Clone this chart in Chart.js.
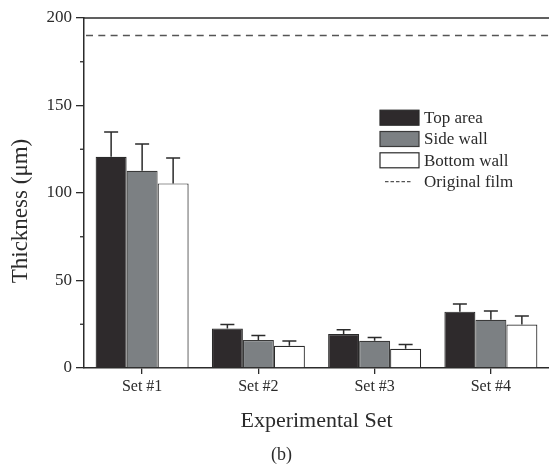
<!DOCTYPE html>
<html>
<head>
<meta charset="utf-8">
<script src="https://cdn.jsdelivr.net/npm/chart.js@4.4.0/dist/chart.umd.min.js"></script>
<style>
  html, body { margin: 0; padding: 0; background: #ffffff; }
  #wrap { width: 549px; height: 468px; }
</style>
</head>
<body>
<div id="wrap"><canvas id="c" width="549" height="468"></canvas></div>
<script>
// ---- Data ----
const categories = ['Set #1', 'Set #2', 'Set #3', 'Set #4'];
const topArea     = [120.7, 22.6, 19.4, 32.2];
const topAreaErr  = [14.2, 2.3, 2.5, 4.4];
const sideWall    = [112.7, 16.0, 15.6, 27.6];
const sideWallErr = [15.3, 2.6, 1.9, 5.0];
const bottomWall    = [105.5, 12.7, 11.0, 24.9];
const bottomWallErr = [14.5, 2.7, 2.5, 4.8];
const originalFilm = 190;
const yTicks = [0, 50, 100, 150, 200];
const yMinorTicks = [25, 75, 125, 175];

const FONT = "'Liberation Serif', 'Times New Roman', serif";
const INK = '#2b2b2b';

const errorBarsPlugin = {
  id: 'errorBars',
  afterDatasetsDraw(chart) {
    const ctx = chart.ctx;
    const y = chart.scales.y;
    chart.data.datasets.forEach((ds, i) => {
      const meta = chart.getDatasetMeta(i);
      meta.data.forEach((bar, j) => {
        const v = ds.data[j], e = ds.errors[j];
        const yTop = y.getPixelForValue(v + e);
        const yBar = y.getPixelForValue(v);
        ctx.save();
        ctx.strokeStyle = INK;
        ctx.lineWidth = 1.5;
        ctx.beginPath();
        ctx.moveTo(bar.x, yBar);
        ctx.lineTo(bar.x, yTop);
        ctx.moveTo(bar.x - 7, yTop);
        ctx.lineTo(bar.x + 7, yTop);
        ctx.stroke();
        ctx.restore();
      });
    });
  }
};

const decorPlugin = {
  id: 'decor',
  afterDraw(chart) {
    const ctx = chart.ctx;
    const a = chart.chartArea;
    const y = chart.scales.y;
    ctx.save();
    // top frame line at max value
    ctx.strokeStyle = INK;
    ctx.lineWidth = 1.5;
    const yMax = y.getPixelForValue(y.max);
    ctx.beginPath();
    ctx.moveTo(a.left, yMax);
    ctx.lineTo(chart.width, yMax);
    ctx.stroke();
    // minor ticks
    ctx.lineWidth = 1.3;
    yMinorTicks.forEach(v => {
      const py = y.getPixelForValue(v);
      ctx.beginPath();
      ctx.moveTo(a.left - 4, py);
      ctx.lineTo(a.left, py);
      ctx.stroke();
    });
    // original film dashed line
    const yo = y.getPixelForValue(originalFilm);
    ctx.strokeStyle = '#555555';
    ctx.lineWidth = 1.6;
    ctx.setLineDash([7, 5.3]);
    ctx.beginPath();
    ctx.moveTo(a.left + 2, yo);
    ctx.lineTo(chart.width, yo);
    ctx.stroke();
    ctx.setLineDash([]);

    // legend
    const lx = 380, bw = 39, bh = 15, rowH = 21.3, ly0 = 117.7;
    ctx.font = '17px ' + FONT;
    ctx.textBaseline = 'middle';
    ctx.textAlign = 'left';
    chart.data.datasets.forEach((ds, i) => {
      const cy = ly0 + i * rowH;
      ctx.fillStyle = ds.backgroundColor;
      ctx.fillRect(lx, cy - bh / 2, bw, bh);
      ctx.strokeStyle = ds.borderColor;
      ctx.lineWidth = 1.2;
      ctx.strokeRect(lx, cy - bh / 2, bw, bh);
      ctx.fillStyle = INK;
      ctx.fillText(ds.label, lx + 44, cy + 1);
    });
    const cyo = ly0 + 3 * rowH;
    ctx.strokeStyle = '#555555';
    ctx.lineWidth = 1.3;
    ctx.setLineDash([3.5, 2]);
    ctx.beginPath();
    ctx.moveTo(lx + 5, cyo);
    ctx.lineTo(lx + 31, cyo);
    ctx.stroke();
    ctx.setLineDash([]);
    ctx.fillStyle = INK;
    ctx.fillText('Original film', lx + 44, cyo + 1);

    // axis titles and caption
    ctx.textAlign = 'center';
    ctx.font = '22px ' + FONT;
    ctx.fillText('Experimental Set', (a.left + a.right) / 2, 421.5);
    ctx.font = '18px ' + FONT;
    ctx.fillText('(b)', 281.5, 455);
    ctx.save();
    ctx.translate(21, 211);
    ctx.rotate(-Math.PI / 2);
    ctx.font = '23px ' + FONT;
    ctx.fillText('Thickness (\u03bcm)', 0, 0);
    ctx.restore();
    ctx.restore();
  }
};

new Chart(document.getElementById('c'), {
  type: 'bar',
  data: {
    labels: categories,
    datasets: [
      { label: 'Top area', data: topArea, errors: topAreaErr,
        backgroundColor: '#2e2a2c', borderColor: '#2a2a2a', borderWidth: 1.2 },
      { label: 'Side wall', data: sideWall, errors: sideWallErr,
        backgroundColor: '#7c8083', borderColor: '#3a3a3a', borderWidth: 1.2 },
      { label: 'Bottom wall', data: bottomWall, errors: bottomWallErr,
        backgroundColor: '#ffffff', borderColor: '#2a2a2a', borderWidth: 1.2 }
    ]
  },
  options: {
    responsive: false,
    animation: false,
    devicePixelRatio: 1,
    layout: { padding: { top: 18, right: 0, bottom: 0, left: 0 } },
    datasets: { bar: { categoryPercentage: 0.8, barPercentage: 1.0, borderSkipped: 'bottom' } },
    plugins: { legend: { display: false }, title: { display: false }, tooltip: { enabled: false } },
    scales: {
      x: {
        offset: true,
        grid: { offset: false, drawOnChartArea: false, drawTicks: true, tickLength: 6, color: INK, lineWidth: 1.3 },
        border: { display: true, color: INK, width: 1.5 },
        ticks: { color: INK, font: { family: FONT, size: 16 }, padding: 3, maxRotation: 0 },
        afterFit(scale) { scale.height = 100; }
      },
      y: {
        min: 0, max: 200,
        afterBuildTicks(scale) { scale.ticks = yTicks.map(v => ({ value: v })); },
        grid: { drawOnChartArea: false, drawTicks: true, tickLength: 8, color: INK, lineWidth: 1.3 },
        border: { display: true, color: INK, width: 1.5 },
        ticks: { color: INK, font: { family: FONT, size: 17 }, padding: 4 },
        afterFit(scale) { scale.width = 84; }
      }
    }
  },
  plugins: [errorBarsPlugin, decorPlugin]
});
</script>
</body>
</html>
